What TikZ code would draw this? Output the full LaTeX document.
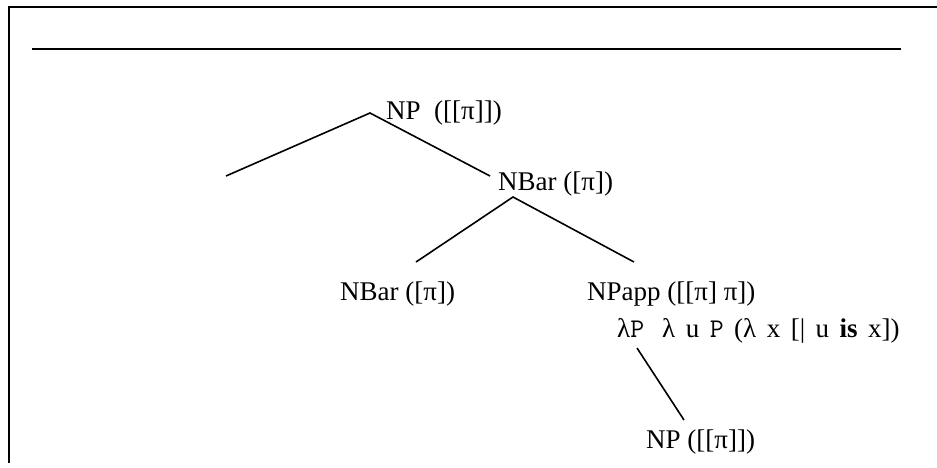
\documentclass[tikz,border=0pt]{standalone}
\usepackage{fontspec}
\setmainfont{Liberation Serif}
\usepackage{tikz}
\usetikzlibrary{positioning}

\begin{document}
\begin{tikzpicture}[
  x=1pt, y=-1pt,
  lbl/.style={inner sep=0pt, anchor=base west, font=\fontsize{27}{30}\selectfont},
  edge/.style={line width=1.6pt, black},
  frame/.style={line width=2pt, black}
]
  \useasboundingbox (0,0) rectangle (937,467);
  % frame and rule
  \draw[frame] (9,463) -- (9,7) -- (937,7);
  \draw[frame] (32,49) -- (901,49);

  % labels
  \node[lbl] (np) at (386,119) {NP\ \ ([[π]])};
  \node[lbl] (nbar) at (498,190) {NBar ([π])};
  \node[lbl] (nbarl) at (340,300) {NBar ([π])};
  \node[lbl] (npapp) at (587,300) {NPapp ([[π] π])};
  \node[lbl] (lam) at (617,337) {\spaceskip=10.5pt λ\texttt{P}\hspace{18pt}λ u \texttt{P} (λ x [| u \textbf{is} x])};
  \node[lbl] (npb) at (646,448) {NP ([[π]])};

  % branch points
  \coordinate (npTop) at (370,113);
  \coordinate (leafL) at (226,176);
  \coordinate (nbarIn) at (490,176);
  \coordinate (nbarTop) at (513,197);
  \coordinate (nbarlIn) at (416,262);
  \coordinate (npappIn) at (634,262);
  \coordinate (lamOut) at (637,348);
  \coordinate (npbIn) at (684,420);

  \draw[edge] (leafL) -- (npTop) -- (nbarIn);
  \draw[edge] (nbarlIn) -- (nbarTop) -- (npappIn);
  \draw[edge] (lamOut) -- (npbIn);
\end{tikzpicture}
\end{document}
